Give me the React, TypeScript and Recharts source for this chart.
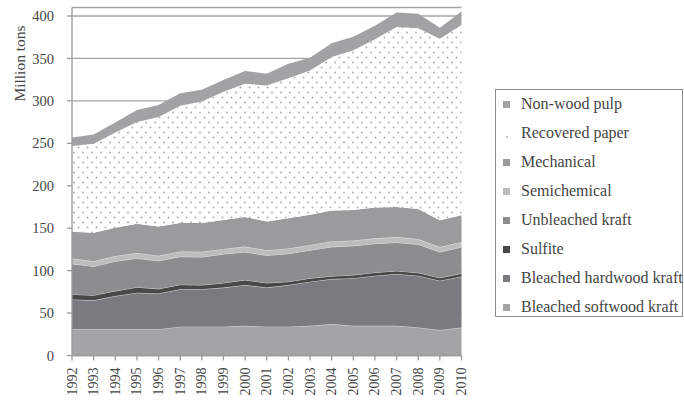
import { AreaChart, Area, XAxis, YAxis, CartesianGrid } from "recharts";

const years = [
  "1992", "1993", "1994", "1995", "1996", "1997", "1998", "1999", "2000", "2001",
  "2002", "2003", "2004", "2005", "2006", "2007", "2008", "2009", "2010",
];

// million tons (bottom layer first)
const bleachedSoftwood = [31, 31, 31, 31, 31, 34, 34, 34, 35, 34, 34, 35, 37, 35, 35, 35, 33, 30, 33];
const bleachedHardwood = [35, 34, 39, 43, 42, 44, 44, 46, 48, 46, 49, 52, 53, 56, 59, 61, 61, 58, 60];
const sulfite = [6, 6, 6, 6.5, 5.5, 5.5, 5, 5.5, 6, 5.5, 4, 4, 3.5, 3.8, 3.8, 3.7, 3.5, 3.4, 3.8];
const unbleachedKraft = [36, 34, 35, 34, 33, 33, 33, 34, 33, 32.5, 33, 33, 34.5, 34.5, 34, 33.5, 33.5, 30.5, 31];
const semichemical = [6.2, 6, 6.1, 6.2, 6, 6.1, 6.2, 6.1, 6.3, 6, 6.1, 6.2, 6.3, 6.2, 6.2, 6.3, 6.2, 5.8, 6];
const mechanical = [31.5, 33.5, 33.5, 34.5, 34.5, 33.5, 34, 34, 35, 34, 35.5, 35.5, 36.5, 36, 36.5, 35.5, 35.5, 31.5, 31.5];
const recoveredPaper = [101, 105, 112, 120, 129, 138, 143, 151, 157, 160, 165, 170, 181, 188, 198, 212, 213, 214, 224];
const nonWoodPulp = [10, 11, 12, 14, 14, 15, 14, 14, 15, 14, 17, 15, 16, 16, 16, 17, 17, 13, 16];

const yTicks = [0, 50, 100, 150, 200, 250, 300, 350, 400];

const FONT = "'Liberation Serif', 'DejaVu Serif', serif";
const TEXT = "#454545";

const series = [
  { key: "bsk", name: "Bleached softwood kraft", values: bleachedSoftwood, fill: "#a4a4a6", stroke: "#dcdcdc" },
  { key: "bhk", name: "Bleached hardwood kraft", values: bleachedHardwood, fill: "#7b7b7f", stroke: "#d8d8d8" },
  { key: "sul", name: "Sulfite", values: sulfite, fill: "#484848", stroke: "#d0d0d0" },
  { key: "ubk", name: "Unbleached kraft", values: unbleachedKraft, fill: "#8d8d90", stroke: "#e0e0e0" },
  { key: "semi", name: "Semichemical", values: semichemical, fill: "#bdbdbd", stroke: "#e4e4e4" },
  { key: "mech", name: "Mechanical", values: mechanical, fill: "#9b9b9d", stroke: "none" },
  { key: "rec", name: "Recovered paper", values: recoveredPaper, fill: "url(#dots)", stroke: "none" },
  { key: "nwp", name: "Non-wood pulp", values: nonWoodPulp, fill: "#a2a2a4", stroke: "none" },
];

const rows = years.map((year, i) => {
  const row: Record<string, string | number> = { year };
  series.forEach((s) => {
    row[s.key] = s.values[i];
  });
  return row;
});

function YearTick({ x, y, payload }: any) {
  return (
    <text
      x={x}
      y={y}
      transform={`rotate(-90, ${x}, ${y})`}
      textAnchor="end"
      dominantBaseline="central"
      fontFamily={FONT}
      fontSize={14}
      fill={TEXT}
    >
      {payload.value}
    </text>
  );
}

function AxisTitle({ viewBox }: any) {
  const x = viewBox.x + 19;
  const y = viewBox.y + 56;
  return (
    <text
      x={x}
      y={y}
      transform={`rotate(-90, ${x}, ${y})`}
      textAnchor="middle"
      dominantBaseline="central"
      fontFamily={FONT}
      fontSize={15.5}
      fill={TEXT}
    >
      Million tons
    </text>
  );
}

function LegendBox() {
  const items = [...series].reverse();
  return (
    <div
      style={{
        position: "absolute",
        left: 495,
        top: 89,
        width: 188,
        height: 228,
        border: "1px solid #8c8c8c",
        fontFamily: FONT,
        fontSize: 16,
        color: TEXT,
        boxSizing: "border-box",
      }}
    >
      {items.map((s, i) => (
        <div
          key={s.key}
          style={{
            position: "absolute",
            left: 0,
            top: 4 + i * 29,
            height: 20,
            display: "flex",
            alignItems: "center",
            whiteSpace: "nowrap",
          }}
        >
          {s.key === "rec" ? (
            <span style={{ display: "inline-block", width: 7, marginLeft: 7, textAlign: "center" }}>
              <span style={{ display: "inline-block", width: 2, height: 2, background: "#c8c8c8" }} />
            </span>
          ) : (
            <span style={{ display: "inline-block", width: 7, height: 7, marginLeft: 7, background: s.fill }} />
          )}
          <span style={{ marginLeft: 11 }}>{s.name}</span>
        </div>
      ))}
    </div>
  );
}

export default function App() {
  return (
    <div style={{ position: "absolute", left: 0, top: 0, width: 684, height: 400, background: "#fff" }}>
      <AreaChart
        width={684}
        height={400}
        data={rows}
        margin={{ top: 7.5, right: 222.5, bottom: 4.5, left: 0 }}
      >
        <defs>
          <pattern id="dots" width="9" height="10" patternUnits="userSpaceOnUse">
            <rect width="9" height="10" fill="#ffffff" />
            <circle cx="2" cy="2.5" r="1" fill="#b0b0b0" />
            <circle cx="6.5" cy="7.5" r="1" fill="#b0b0b0" />
          </pattern>
        </defs>
        <CartesianGrid vertical={false} stroke="#a6a6a6" strokeWidth={1.3} />
        <XAxis
          dataKey="year"
          interval={0}
          height={40}
          tick={<YearTick />}
          tickSize={5}
          tickMargin={7}
          stroke="#9a9a9a"
          strokeWidth={1.3}
        />
        <YAxis
          domain={[0, 410]}
          ticks={yTicks}
          width={72}
          tickSize={5}
          tickMargin={13}
          stroke="#9a9a9a"
          strokeWidth={1.3}
          tick={{ fontFamily: FONT, fontSize: 14.5, fill: TEXT }}
          label={{ content: <AxisTitle /> }}
        />
        {series.map((s) => (
          <Area
            key={s.key}
            type="linear"
            dataKey={s.key}
            name={s.name}
            stackId="pulp"
            fill={s.fill}
            fillOpacity={1}
            stroke={s.stroke}
            strokeWidth={1}
            dot={false}
            activeDot={false}
            isAnimationActive={false}
          />
        ))}
      </AreaChart>
      <LegendBox />
    </div>
  );
}
